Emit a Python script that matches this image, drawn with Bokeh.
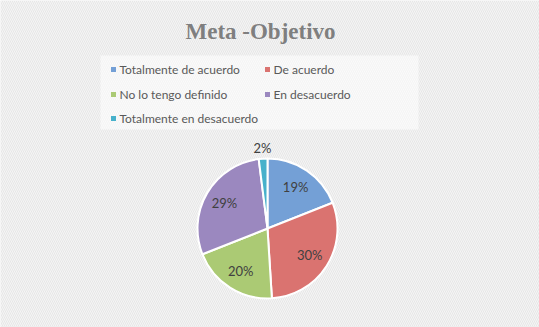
import math
from bokeh.plotting import figure
from bokeh.models import Range1d
from bokeh.core.properties import value
from bokeh.embed import file_html
from bokeh.resources import INLINE

title = "Meta -Objetivo"
categories = ["Totalmente de acuerdo", "De acuerdo", "No lo tengo definido",
              "En desacuerdo", "Totalmente en desacuerdo"]
values = [19, 30, 20, 29, 2]
colors = ["#74a0d6", "#da7370", "#abca74", "#9b88bf", "#47b1cb"]

W, H = 539, 327
p = figure(width=W, height=H, x_range=Range1d(0, W), y_range=Range1d(0, H),
           toolbar_location=None, output_backend="svg", min_border=0,
           match_aspect=False)
p.axis.visible = False
p.grid.visible = False
p.outline_line_color = None
p.background_fill_color = "#f4f4f4"
p.border_fill_color = "#f4f4f4"

# hatched background
p.quad(left=[0], right=[W], bottom=[0], top=[H], fill_color="#f5f5f5",
       line_color=None, hatch_pattern="\\", hatch_color="#e6e6e6",
       hatch_scale=4, hatch_weight=1)

def Y(py):
    return H - py

# title
p.text(x=[260], y=[Y(31)], text=[title], text_font=value("Liberation Serif"),
       text_font_style="bold", text_font_size="23px", text_color="#7f7f7f",
       text_align="center", text_baseline="middle")

# legend box
p.quad(left=[100], right=[418], bottom=[Y(129)], top=[Y(55)],
       fill_color="#ffffff", fill_alpha=0.55, line_color=None)
leg_x = [113, 267, 113, 267, 113]
leg_y = [69, 69, 94, 94, 118]
p.scatter(x=leg_x, y=[Y(v) for v in leg_y], marker="square", size=5,
          fill_color=colors, line_color=None)
p.text(x=[v + 6 for v in leg_x], y=[Y(v) for v in leg_y], text=categories,
       text_font=value("Lato"), text_font_size="12px", text_color="#595959",
       text_align="left", text_baseline="middle")

# pie
cx, cy, r = 267, Y(228), 70
total = sum(values)
starts, ends, mids = [], [], []
cum = 0
for v in values:
    a0 = math.pi / 2 - 2 * math.pi * cum / total
    cum += v
    a1 = math.pi / 2 - 2 * math.pi * cum / total
    starts.append(a0)
    ends.append(a1)
    mids.append((a0 + a1) / 2)

p.wedge(x=[cx] * len(values), y=[cy] * len(values), radius=r,
        start_angle=starts, end_angle=ends, direction="clock",
        fill_color=colors, line_color="white", line_width=2)

label_r = [50, 50, 50, 50, 81]
lx = [cx + lr * math.cos(m) for lr, m in zip(label_r, mids)]
ly = [cy + lr * math.sin(m) for lr, m in zip(label_r, mids)]
p.text(x=lx, y=ly, text=[f"{v}%" for v in values], text_font=value("Lato"),
       text_font_size="13px", text_color="#404040", text_align="center",
       text_baseline="middle")

open("out.html", "w").write(file_html(p, INLINE))
